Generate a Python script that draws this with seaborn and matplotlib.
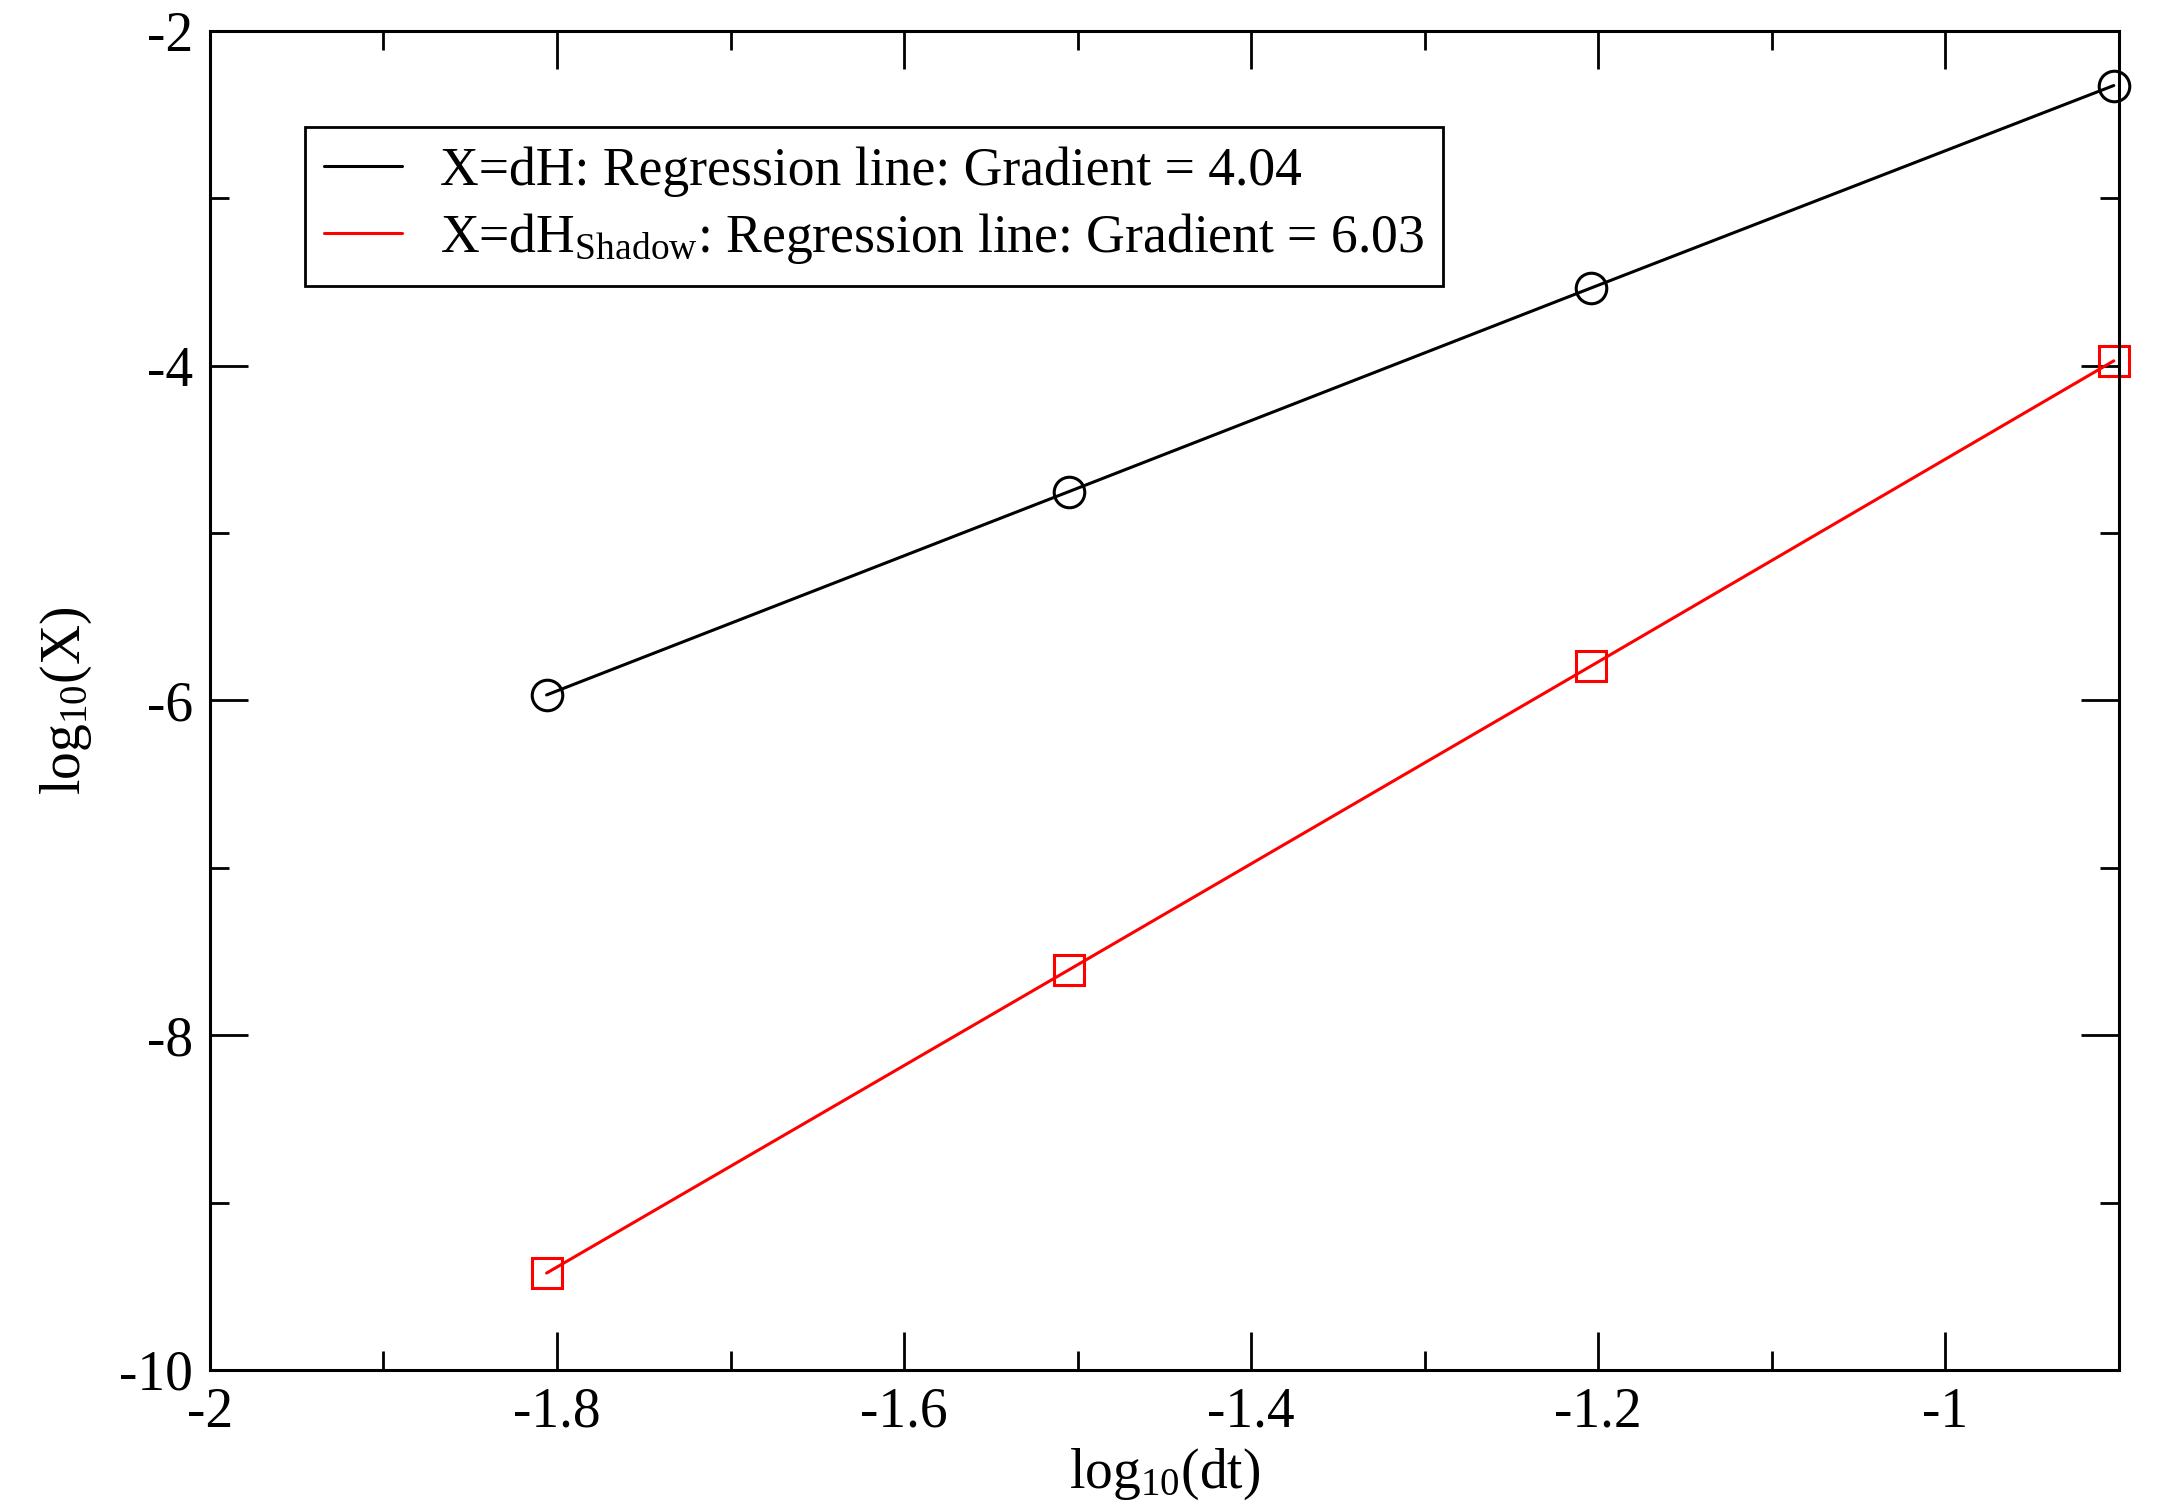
import numpy as np
import pandas as pd
import matplotlib
matplotlib.use("Agg")
import matplotlib.pyplot as plt
from matplotlib.lines import Line2D
from matplotlib.ticker import MultipleLocator
import seaborn as sns

# log10 of the time steps dt = 1/64, 1/32, 1/16, 1/8
log_dt = [-1.806, -1.505, -1.204, -0.903]
# log10 of the energy error for each integrator
log_dH = [-5.967, -4.752, -3.535, -2.326]
log_dH_shadow = [-9.421, -7.609, -5.793, -3.971]

label_dH = "X=dH: Regression line: Gradient = 4.04"
label_shadow = r"X=dH$_{\mathrm{Shadow}}$: Regression line: Gradient = 6.03"

x_ticks = [-2.0, -1.8, -1.6, -1.4, -1.2, -1.0]
x_tick_labels = ["-2", "-1.8", "-1.6", "-1.4", "-1.2", "-1"]
y_ticks = [-10, -8, -6, -4, -2]
y_tick_labels = ["-10", "-8", "-6", "-4", "-2"]

df = pd.DataFrame({
    "log_dt": log_dt * 2,
    "value": log_dH + log_dH_shadow,
    "series": ["dH"] * 4 + ["shadow"] * 4,
})

sns.set_theme(style="white")
plt.rcParams["font.family"] = ["Liberation Serif", "DejaVu Serif"]
plt.rcParams["mathtext.fontset"] = "custom"
plt.rcParams["mathtext.rm"] = "Liberation Serif"
plt.rcParams["mathtext.it"] = "Liberation Serif:italic"
plt.rcParams["axes.unicode_minus"] = False
plt.rcParams["text.color"] = "black"
plt.rcParams["axes.labelcolor"] = "black"
plt.rcParams["xtick.color"] = "black"
plt.rcParams["ytick.color"] = "black"

DPI = 200
fig = plt.figure(figsize=(2162 / DPI, 1502 / DPI), dpi=DPI)
ax = fig.add_axes([0.0971, 0.0879, 0.9801 - 0.0971, 0.9794 - 0.0879])

line_w = 1.1
styles = {
    "dH": dict(color="black", marker="o"),
    "shadow": dict(color="#ff0000", marker="s"),
}
for name, st in styles.items():
    sub = df[df["series"] == name]
    sns.lineplot(
        data=sub, x="log_dt", y="value", ax=ax,
        color=st["color"], marker=st["marker"], markersize=11,
        markerfacecolor="none", markeredgecolor=st["color"],
        markeredgewidth=1.1, linewidth=line_w, clip_on=False,
        legend=False,
    )

ax.set_xlim(-2.0, -0.9)
ax.set_ylim(-10, -2)
ax.set_xticks(x_ticks)
ax.set_xticklabels(x_tick_labels)
ax.set_yticks(y_ticks)
ax.set_yticklabels(y_tick_labels)
ax.xaxis.set_minor_locator(MultipleLocator(0.1))
ax.yaxis.set_minor_locator(MultipleLocator(1))

ax.tick_params(which="both", direction="in", top=True, right=True,
               bottom=True, left=True, width=1.0, colors="black",
               labelcolor="black", labelsize=20, pad=6)
ax.tick_params(which="major", length=13.7)
ax.tick_params(which="minor", length=6.8)
for sp in ax.spines.values():
    sp.set_visible(True)
    sp.set_color("black")
    sp.set_linewidth(1.1)

ax.set_xlabel(r"log$_{10}$(dt)", fontsize=20, labelpad=3, color="black")
ax.set_ylabel(r"log$_{10}$(X)", fontsize=20, labelpad=9, color="black")

handles = [
    Line2D([], [], color="black", linewidth=line_w),
    Line2D([], [], color="#ff0000", linewidth=line_w),
]
leg = ax.legend(handles, [label_dH, label_shadow], loc="upper left",
                bbox_to_anchor=(0.0498, 0.9283), borderaxespad=0,
                fontsize=19.3, frameon=True, fancybox=False,
                handlelength=1.45, handletextpad=0.7, labelspacing=0.27,
                borderpad=0.36)
for t in leg.get_texts():
    t.set_color("black")
leg.get_frame().set_edgecolor("black")
leg.get_frame().set_linewidth(1.0)
leg.get_frame().set_facecolor("white")
leg.get_frame().set_alpha(1)

fig.savefig("out.png", dpi=DPI, facecolor="white")
